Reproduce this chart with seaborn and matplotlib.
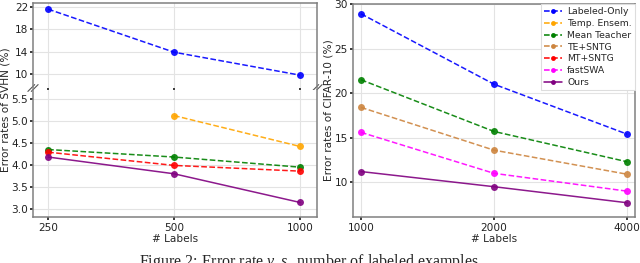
import matplotlib
matplotlib.use('Agg')
import matplotlib.pyplot as plt
import seaborn as sns
import numpy as np
from matplotlib.lines import Line2D

# data
methods = ['Labeled-Only', 'Temp. Ensem.', 'Mean Teacher', 'TE+SNTG', 'MT+SNTG', 'fastSWA', 'Ours']
colors = ['blue', 'orange', 'green', 'peru', 'red', 'magenta', 'purple']
styles = ['--', '--', '--', '--', '--', '--', '-']

svhn_labels = ['250', '500', '1000']
svhn_labeled_only = [21.6, 13.9, 9.8]
svhn_temp_ensem = [np.nan, 5.12, 4.42]
svhn_mean_teacher = [4.35, 4.18, 3.95]
svhn_mt_sntg = [4.29, 3.99, 3.86]
svhn_ours = [4.18, 3.80, 3.15]

cifar_labels = ['1000', '2000', '4000']
cifar_labeled_only = [28.9, 21.0, 15.4]
cifar_mean_teacher = [21.5, 15.7, 12.3]
cifar_te_sntg = [18.4, 13.6, 10.9]
cifar_fastswa = [15.6, 11.0, 9.0]
cifar_ours = [11.2, 9.5, 7.7]

sns.set_theme(style='whitegrid', rc={
    'axes.edgecolor': '#808080', 'axes.linewidth': 1.1,
    'grid.color': '#e3e3e3', 'grid.linewidth': 0.8,
    'xtick.bottom': True, 'ytick.left': True,
    'xtick.major.size': 2.5, 'ytick.major.size': 2.5,
    'xtick.major.pad': 1.5, 'ytick.major.pad': 1.2,
    'xtick.color': '#222222', 'ytick.color': '#222222',
})
plt.rcParams['font.family'] = ['DejaVu Sans']

fig = plt.figure(figsize=(6.4, 2.63), dpi=100)
W, H = 640, 263


def rect(x0, x1, y0, y1):
    return [x0 / W, (H - y1) / H, (x1 - x0) / W, (y1 - y0) / H]


ax_top = fig.add_axes(rect(33, 317, 3, 88))
ax_bot = fig.add_axes(rect(33, 317, 90, 217))
ax_r = fig.add_axes(rect(353, 635, 4, 217))

fs = 7.6
mk = dict(marker='o', markersize=5, linewidth=1.1, markeredgewidth=0, alpha=0.9)


def draw(ax, vals, idx):
    x = np.arange(len(vals))
    sns.lineplot(x=x, y=vals, ax=ax, color=colors[idx], linestyle=styles[idx], **mk)


# left: SVHN with broken axis
draw(ax_top, svhn_labeled_only, 0)
for ax in (ax_top, ax_bot):
    ax.set_xlim(-0.12, 2.135)
    ax.set_xticks([0, 1, 2])
draw(ax_bot, svhn_temp_ensem, 1)
draw(ax_bot, svhn_mean_teacher, 2)
draw(ax_bot, svhn_mt_sntg, 4)
draw(ax_bot, svhn_ours, 6)

ax_top.set_ylim(7.5, 22.7)
ax_top.set_yticks([10, 14, 18, 22])
ax_top.spines['bottom'].set_visible(False)
ax_top.tick_params(labelbottom=False, labelsize=fs, bottom=True, length=2)
ax_bot.set_ylim(2.82, 5.7)
ax_bot.set_yticks([3.0, 3.5, 4.0, 4.5, 5.0, 5.5])
ax_bot.set_yticklabels(['3.0', '3.5', '4.0', '4.5', '5.0', '5.5'])
ax_bot.spines['top'].set_visible(False)
ax_bot.set_xticklabels(svhn_labels)
ax_bot.tick_params(labelsize=fs)
ax_bot.set_xlabel('# Labels', fontsize=fs, labelpad=1)

# break marks
d = 0.012
for xx in (0, 1):
    for off in (-0.006, 0.006):
        ax_top.plot([xx - d + off, xx + d + off], [-0.04, 0.04], transform=ax_top.transAxes,
                    color='#555555', linewidth=0.8, clip_on=False)

fig.text(5.5 / W, 1 - 110 / H, 'Error rates of SVHN (%)', rotation=90,
         ha='center', va='center', fontsize=fs)

# right: CIFAR-10
draw(ax_r, cifar_labeled_only, 0)
draw(ax_r, cifar_mean_teacher, 2)
draw(ax_r, cifar_te_sntg, 3)
draw(ax_r, cifar_fastswa, 5)
draw(ax_r, cifar_ours, 6)
ax_r.set_xlim(-0.06, 2.06)
ax_r.set_xticks([0, 1, 2])
ax_r.set_xticklabels(cifar_labels)
ax_r.set_ylim(6.1, 30)
ax_r.set_yticks([10, 15, 20, 25, 30])
ax_r.tick_params(labelsize=fs)
ax_r.set_xlabel('# Labels', fontsize=fs, labelpad=1)
ax_r.set_ylabel('Error rates of CIFAR-10 (%)', fontsize=fs, labelpad=0.5)

handles = [Line2D([], [], color=c, linestyle=s, marker='o', markersize=3.5, linewidth=1.1,
                  markeredgewidth=0) for c, s in zip(colors, styles)]
leg = ax_r.legend(handles, methods, loc='upper right', fontsize=6.7, borderaxespad=0,
                  fancybox=False, framealpha=1, edgecolor='#dddddd', handlelength=1.9,
                  handletextpad=0.6, labelspacing=0.3, borderpad=0.35)
leg.get_frame().set_linewidth(0.8)

plt.rcParams['mathtext.fontset'] = 'custom'
plt.rcParams['mathtext.rm'] = 'Liberation Serif'
plt.rcParams['mathtext.it'] = 'Liberation Serif:italic'
fig.text(311 / W, 1 - 252 / H, r'Figure 2: Error rate $\mathit{v.s.}$ number of labeled examples.',
         ha='center', va='top', fontsize=11.5, family='Liberation Serif')

fig.savefig('out.png', dpi=100)
